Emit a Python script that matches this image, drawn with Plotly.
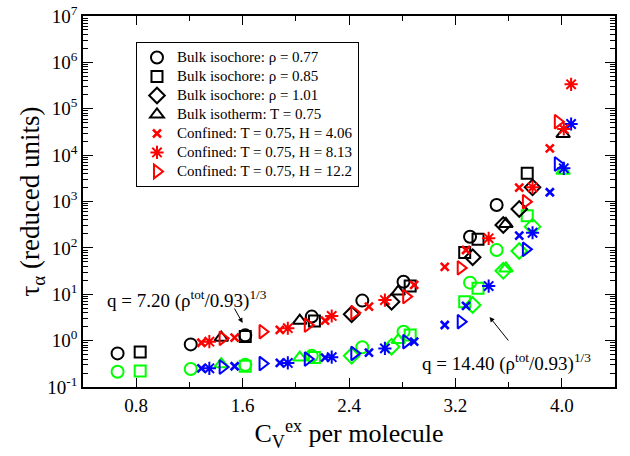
import plotly.graph_objects as go

# ---------------- data ----------------
# Bulk isochore rho = 0.77
circ_x = [0.66, 1.21, 1.62, 2.12, 2.50, 2.81, 3.31, 3.51]
circ_y_q720 = [0.53, 0.83, 1.30, 3.3, 7.3, 18.6, 174, 840]
circ_y_q1440 = [0.214, 0.244, 0.30, 0.47, 0.72, 1.56, 17.8, 90]

# Bulk isochore rho = 0.85
sq_x = [0.83, 1.62, 2.14, 2.86, 3.27, 3.37, 3.74]
sq_y_q720 = [0.57, 1.22, 2.65, 15.0, 79, 153, 4060]
sq_y_q1440 = [0.22, 0.28, 0.43, 1.32, 6.9, 13.4, 494]

# Bulk isochore rho = 1.01
dia_x = [2.42, 2.72, 3.33, 3.56, 3.68, 3.78]
dia_y_q720 = [3.7, 6.9, 62.7, 311, 689, 2020]
dia_y_q1440 = [0.47, 0.74, 5.87, 32, 85.7, 287]

# Bulk isotherm T = 0.75
tri_x = [1.44, 2.03, 2.77, 3.58, 4.01]
tri_y_q720 = [1.16, 2.69, 11.4, 327, 28500]
tri_y_q1440 = [0.31, 0.43, 1.03, 36, 4600]

# Confined T = 0.75, H = 4.06
h406_x = [1.29, 1.54, 1.88, 2.22, 2.55, 2.89, 3.12, 3.28, 3.68, 3.91]
h406_y_q720 = [0.90, 1.16, 1.70, 2.69, 5.4, 15.9, 39, 90, 1990, 14000]
h406_y_q1440 = [0.253, 0.28, 0.33, 0.43, 0.55, 0.95, 2.17, 5.6, 183, 1580]

# Confined T = 0.75, H = 8.13
h813_x = [1.35, 1.94, 2.27, 2.67, 3.45, 3.78, 4.015, 4.07]
h813_y_q720 = [0.95, 1.85, 3.4, 7.5, 161, 2020, 36600, 336000]
h813_y_q1440 = [0.253, 0.33, 0.44, 0.68, 15, 212, 5200, 46900]

# Confined T = 0.75, H = 12.2
h122_x = [1.45, 1.75, 2.09, 2.44, 2.83, 3.24, 3.73, 3.97]
h122_y_q720 = [1.12, 1.56, 2.17, 4.0, 8.9, 37, 990, 52500]
h122_y_q1440 = [0.27, 0.32, 0.40, 0.53, 0.95, 2.56, 93, 6440]

legend_names = [
    "Bulk isochore: \u03c1 = 0.77",
    "Bulk isochore: \u03c1 = 0.85",
    "Bulk isochore: \u03c1 = 1.01",
    "Bulk isotherm: T = 0.75",
    "Confined: T = 0.75, H = 4.06",
    "Confined: T = 0.75, H = 8.13",
    "Confined: T = 0.75, H = 12.2",
]

x_tickvals = [0.8, 1.6, 2.4, 3.2, 4.0]
x_ticktext = ["0.8", "1.6", "2.4", "3.2", "4.0"]
y_tickvals = [1e-1, 1e0, 1e1, 1e2, 1e3, 1e4, 1e5, 1e6, 1e7]
y_ticktext = ["10<sup>-1</sup>", "10<sup>0</sup>", "10<sup>1</sup>", "10<sup>2</sup>",
              "10<sup>3</sup>", "10<sup>4</sup>", "10<sup>5</sup>", "10<sup>6</sup>",
              "10<sup>7</sup>"]

# ---------------- styling ----------------
BLACK, GREEN, RED, BLUE = "#000000", "#00ff00", "#ff0000", "#0000ff"
FONT = "Liberation Serif, Times New Roman, serif"

series = [
    # (x, y_q720, y_q1440, symbol, size, line width, name, q720 colour, q1440 colour)
    (circ_x, circ_y_q720, circ_y_q1440, "circle-open", 12, 2, legend_names[0], BLACK, GREEN),
    (sq_x, sq_y_q720, sq_y_q1440, "square-open", 11, 2, legend_names[1], BLACK, GREEN),
    (dia_x, dia_y_q720, dia_y_q1440, "diamond-open", 12, 2, legend_names[2], BLACK, GREEN),
    (tri_x, tri_y_q720, tri_y_q1440, "triangle-up-open", 12, 2, legend_names[3], BLACK, GREEN),
    (h406_x, h406_y_q720, h406_y_q1440, "x-thin-open", 8, 2.6, legend_names[4], RED, BLUE),
    (h813_x, h813_y_q720, h813_y_q1440, "asterisk-open", 11, 2, legend_names[5], RED, BLUE),
    (h122_x, h122_y_q720, h122_y_q1440, "triangle-right-open", 12, 2, legend_names[6], RED, BLUE),
]

fig = go.Figure()
for x, y1, y2, sym, size, lw, name, c1, c2 in series:
    fig.add_trace(go.Scatter(
        x=x, y=y2, mode="markers", showlegend=False,
        marker=dict(symbol=sym, size=size, color=c2, line=dict(color=c2, width=lw)),
    ))
    fig.add_trace(go.Scatter(
        x=x, y=y1, mode="markers",
        name='<span style="font-size:15px">' + name + "</span>",
        marker=dict(symbol=sym, size=size, color=c1, line=dict(color=c1, width=lw)),
    ))

fig.update_layout(
    width=630, height=456,
    margin=dict(l=83, r=15, t=16, b=69),
    paper_bgcolor="white", plot_bgcolor="white",
    font=dict(family=FONT, color="black", size=19),
    legend=dict(
        x=0.0996, y=0.93, xanchor="left", yanchor="top",
        bordercolor="black", borderwidth=1, bgcolor="white",
        font=dict(family=FONT, size=12), tracegroupgap=0,
    ),
    xaxis=dict(
        range=[0.4, 4.4], tickmode="array", tickvals=x_tickvals, ticktext=x_ticktext,
        ticks="inside", ticklen=9, tickwidth=1, tickcolor="black",
        showline=True, linecolor="black", linewidth=1.5, mirror="ticks",
        showgrid=False, zeroline=False,
        minor=dict(tickmode="linear", tick0=0.4, dtick=0.4, ticks="inside", ticklen=5,
                   tickwidth=1, tickcolor="black", showgrid=False),
        tickfont=dict(size=19),
        title=dict(text="C<sub>V</sub><sup>ex</sup> per molecule", font=dict(size=26), standoff=1),
        automargin=False,
    ),
    yaxis=dict(
        type="log", range=[-1, 7], tickmode="array", tickvals=y_tickvals, ticktext=y_ticktext,
        ticks="inside", ticklen=10, tickwidth=1, tickcolor="black",
        showline=True, linecolor="black", linewidth=1.5, mirror="ticks",
        showgrid=False, zeroline=False,
        minor=dict(dtick="D1", ticks="inside", ticklen=5, tickwidth=1, tickcolor="black",
                   showgrid=False),
        tickfont=dict(size=19),
        title=dict(text="\u03c4<sub>\u03b1</sub> (reduced units)", font=dict(size=27), standoff=0),
        automargin=False,
    ),
    annotations=[
        dict(text="q = 7.20 (\u03c1<sup>tot</sup>/0.93)<sup>1/3</sup>", xref="paper", yref="paper",
             x=0.041, y=0.235, xanchor="left", yanchor="middle", showarrow=False,
             font=dict(size=19)),
        dict(text="q = 14.40 (\u03c1<sup>tot</sup>/0.93)<sup>1/3</sup>", xref="paper", yref="paper",
             x=0.633, y=0.067, xanchor="left", yanchor="middle", showarrow=False,
             font=dict(size=19)),
        dict(text="", x=1.6, y=0.38, xref="x", yref="y", showarrow=True,
             ax=-9, ay=-16, arrowhead=2, arrowsize=1, arrowwidth=1, arrowcolor="black"),
        dict(text="", x=3.457, y=0.509, xref="x", yref="y", showarrow=True,
             ax=20, ay=25, arrowhead=2, arrowsize=1, arrowwidth=1, arrowcolor="black"),
    ],
)

fig.write_html("out.html")
